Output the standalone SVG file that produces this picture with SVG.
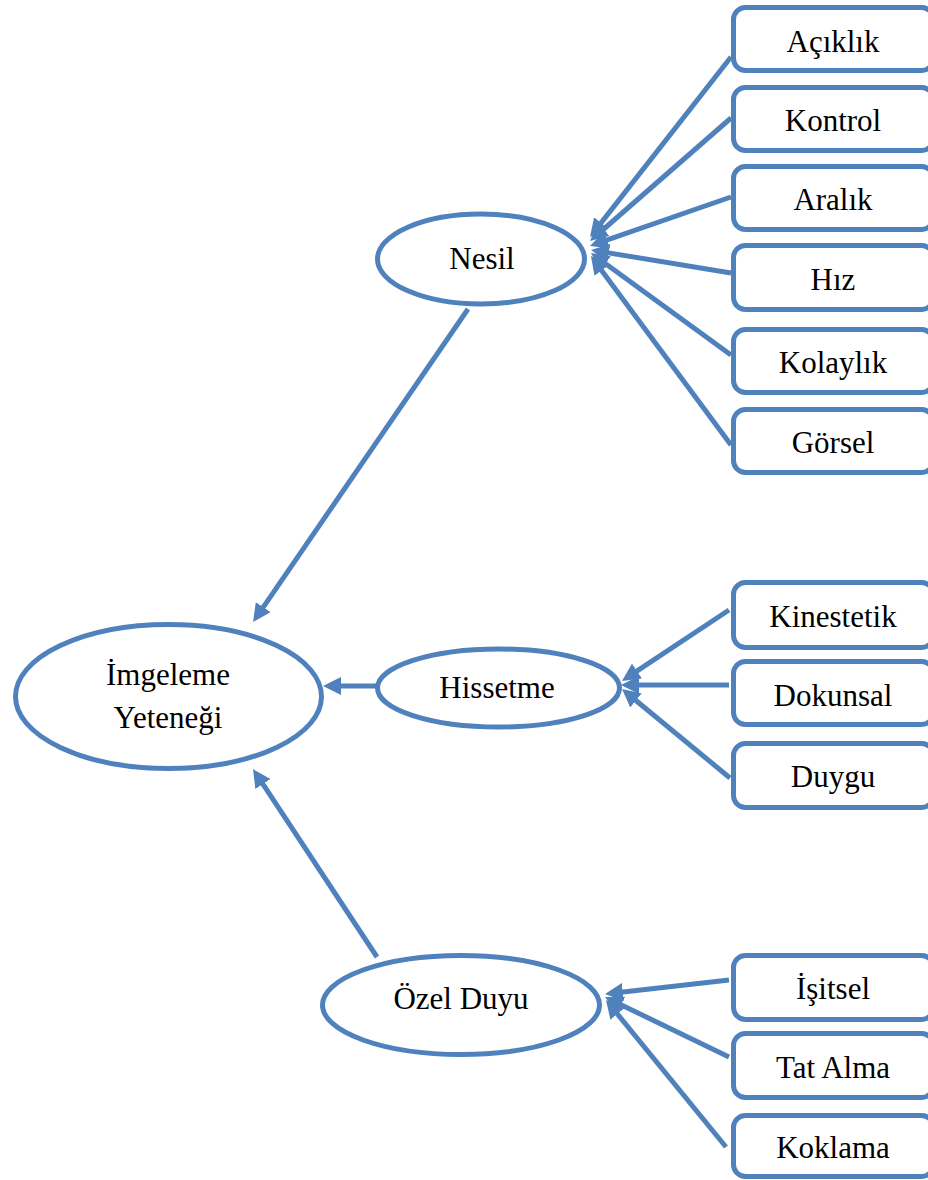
<svg xmlns="http://www.w3.org/2000/svg" width="928" height="1180" viewBox="0 0 928 1180">
  <style>
    .shape { fill: #ffffff; stroke: #4F81BD; stroke-width: 5; }
    .edge { fill: none; stroke: #4F81BD; stroke-width: 5; }
    .label { font-family: "Liberation Serif", "Times New Roman", serif; font-size: 31px; fill: #000000; text-anchor: middle; }
  </style>
  <defs>
    <marker id="head" markerUnits="userSpaceOnUse" markerWidth="18" markerHeight="18" refX="2" refY="9" orient="auto">
      <path d="M0,0 L18,9 L0,18 z" fill="#4F81BD"/>
    </marker>
  </defs>
  <rect width="928" height="1180" fill="#ffffff"/>

  <g id="connectors">
    <!-- Nesil group -->
    <line class="edge" x1="731" y1="57" x2="599.9" y2="224.4" marker-end="url(#head)"/>
    <line class="edge" x1="731" y1="118" x2="602.1" y2="230.5" marker-end="url(#head)"/>
    <line class="edge" x1="731" y1="197" x2="605.1" y2="240.7" marker-end="url(#head)"/>
    <line class="edge" x1="731" y1="273" x2="606.8" y2="252.6" marker-end="url(#head)"/>
    <line class="edge" x1="731" y1="355" x2="603.9" y2="262.4" marker-end="url(#head)"/>
    <line class="edge" x1="731" y1="445" x2="600.5" y2="268.9" marker-end="url(#head)"/>
    <!-- Hissetme group -->
    <line class="edge" x1="729" y1="610" x2="635.3" y2="672.2" marker-end="url(#head)"/>
    <line class="edge" x1="729" y1="685" x2="637" y2="685" marker-end="url(#head)"/>
    <line class="edge" x1="730" y1="778" x2="634.4" y2="699.2" marker-end="url(#head)"/>
    <!-- Özel Duyu group -->
    <line class="edge" x1="729" y1="980" x2="620.9" y2="992.2" marker-end="url(#head)"/>
    <line class="edge" x1="729" y1="1057" x2="619.4" y2="1004" marker-end="url(#head)"/>
    <line class="edge" x1="726" y1="1147" x2="616.1" y2="1012.4" marker-end="url(#head)"/>
    <!-- into the central node -->
    <line class="edge" x1="468" y1="309" x2="262.1" y2="608.8" marker-end="url(#head)"/>
    <line class="edge" x1="376" y1="686" x2="339" y2="686" marker-end="url(#head)"/>
    <line class="edge" x1="377" y1="957" x2="261.8" y2="782.4" marker-end="url(#head)"/>
  </g>

  <g id="imgeleme">
    <ellipse class="shape" cx="168.5" cy="696.5" rx="153" ry="72"/>
    <text class="label" x="168" y="685">İmgeleme</text>
    <text class="label" x="168" y="728">Yeteneği</text>
  </g>
  <g id="nesil">
    <ellipse class="shape" cx="481" cy="259" rx="103.5" ry="45"/>
    <text class="label" x="482" y="269">Nesil</text>
  </g>
  <g id="hissetme">
    <ellipse class="shape" cx="498.5" cy="688" rx="121" ry="39"/>
    <text class="label" x="497" y="698">Hissetme</text>
  </g>
  <g id="ozel-duyu">
    <ellipse class="shape" cx="461" cy="1005" rx="138.5" ry="49.5"/>
    <text class="label" x="461" y="1009">Özel Duyu</text>
  </g>

  <g id="aciklik">
    <rect class="shape" x="733.5" y="7.5" width="200" height="63" rx="12"/>
    <text class="label" x="833" y="52">Açıklık</text>
  </g>
  <g id="kontrol">
    <rect class="shape" x="733.5" y="87.5" width="200" height="63" rx="12"/>
    <text class="label" x="833" y="131">Kontrol</text>
  </g>
  <g id="aralik">
    <rect class="shape" x="733.5" y="166.5" width="200" height="63" rx="12"/>
    <text class="label" x="833" y="210">Aralık</text>
  </g>
  <g id="hiz">
    <rect class="shape" x="733.5" y="245.5" width="200" height="64" rx="12"/>
    <text class="label" x="833" y="290">Hız</text>
  </g>
  <g id="kolaylik">
    <rect class="shape" x="733.5" y="329.5" width="200" height="63" rx="12"/>
    <text class="label" x="833" y="373">Kolaylık</text>
  </g>
  <g id="gorsel">
    <rect class="shape" x="733.5" y="409.5" width="200" height="63" rx="12"/>
    <text class="label" x="833" y="453">Görsel</text>
  </g>

  <g id="kinestetik">
    <rect class="shape" x="733.5" y="582.5" width="200" height="65" rx="12"/>
    <text class="label" x="833" y="627">Kinestetik</text>
  </g>
  <g id="dokunsal">
    <rect class="shape" x="733.5" y="661.5" width="200" height="63" rx="12"/>
    <text class="label" x="833" y="706">Dokunsal</text>
  </g>
  <g id="duygu">
    <rect class="shape" x="733.5" y="743.5" width="200" height="64" rx="12"/>
    <text class="label" x="833" y="787">Duygu</text>
  </g>

  <g id="isitsel">
    <rect class="shape" x="733.5" y="955.5" width="200" height="64" rx="12"/>
    <text class="label" x="833" y="999">İşitsel</text>
  </g>
  <g id="tat-alma">
    <rect class="shape" x="733.5" y="1033.5" width="200" height="64" rx="12"/>
    <text class="label" x="833" y="1078">Tat Alma</text>
  </g>
  <g id="koklama">
    <rect class="shape" x="733.5" y="1115.5" width="200" height="61" rx="12"/>
    <text class="label" x="833" y="1158">Koklama</text>
  </g>
</svg>
